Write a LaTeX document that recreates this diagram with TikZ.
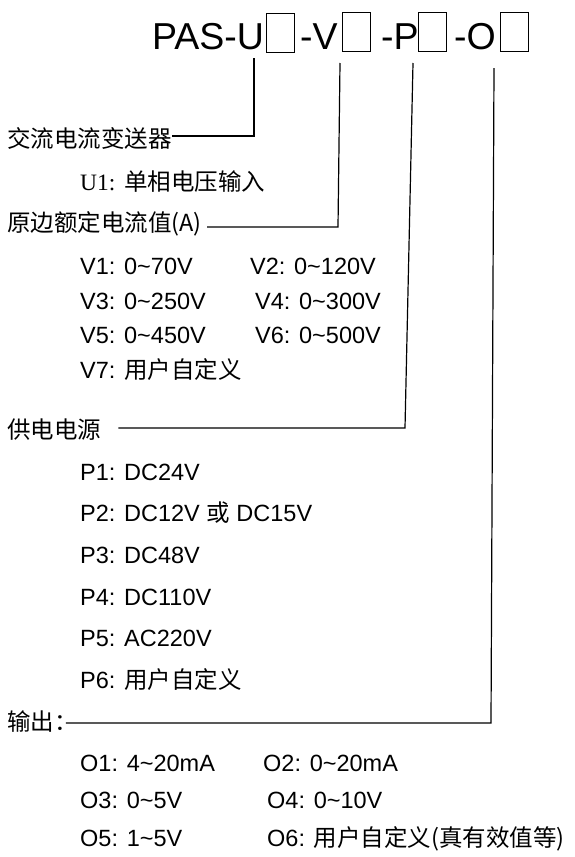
\documentclass[tikz,border=0pt]{standalone}
\usepackage{fontspec}
\setmainfont{Liberation Sans}
\newfontfamily\cjk{Noto Sans CJK SC}
\newfontfamily\tms{Liberation Serif}
\tikzset{
  title/.style={anchor=base west, inner sep=0pt, font=\fontsize{37.5}{40}\selectfont},
  slot/.style={draw, line width=0.9pt, minimum width=28pt, minimum height=39pt, inner sep=0pt},
  head/.style={anchor=base west, inner sep=0pt, font=\cjk\fontsize{23.5}{28}\selectfont},
  item/.style={anchor=base west, inner sep=0pt, font=\fontsize{23.5}{28}\selectfont},
  lead/.style={line width=1.2pt},
}
\begin{document}
\begin{tikzpicture}[x=1pt,y=-1pt]
\useasboundingbox (0,0) rectangle (574,857);
% model code
\node[title] (pasu) at (152,49) {PAS-U};
\node[slot] (box-u) at (280,33) {};
\node[title] (dash-v) at (300,49) {-V};
\node[slot] (box-v) at (356,32) {};
\node[title] (dash-p) at (381,49) {-P};
\node[slot] (box-p) at (432.5,32) {};
\node[title] (dash-o) at (454,49) {-O};
\node[slot] (box-o) at (514,32) {};
% headings
\node[head] (jlbs) at (7,147) {交流电流变送器};
\node[head] (ybed) at (7,231) {原边额定电流值(A)};
\node[head] (gddy) at (7,438) {供电电源};
\node[head] (sc) at (7,730) {输出：};
% options
\node[item] (u1) at (80,190) {{\tms U1:} {\cjk 单相电压输入}};
\node[item] (v1) at (80,274.5) {V1: 0\textasciitilde70V};
\node[item] (v2) at (250,274.5) {V2: 0\textasciitilde120V};
\node[item] (v3) at (80,309) {V3: 0\textasciitilde250V};
\node[item] (v4) at (255,309) {V4: 0\textasciitilde300V};
\node[item] (v5) at (80,343.5) {V5: 0\textasciitilde450V};
\node[item] (v6) at (255,343.5) {V6: 0\textasciitilde500V};
\node[item] (v7) at (80,378) {V7: {\cjk 用户自定义}};
\node[item] (p1) at (80,480) {P1: DC24V};
\node[item] (p2) at (80,521.5) {P2: DC12V {\cjk 或} DC15V};
\node[item] (p3) at (80,563) {P3: DC48V};
\node[item] (p4) at (80,605) {P4: DC110V};
\node[item] (p5) at (80,646.5) {P5: AC220V};
\node[item] (p6) at (80,688) {P6: {\cjk 用户自定义}};
\node[item] (o1) at (80,771.5) {O1: 4\textasciitilde20mA};
\node[item] (o2) at (263,771.5) {O2: 0\textasciitilde20mA};
\node[item] (o3) at (80,808.5) {O3: 0\textasciitilde5V};
\node[item] (o4) at (267,808.5) {O4: 0\textasciitilde10V};
\node[item] (o5) at (80,846) {O5: 1\textasciitilde5V};
\node[item] (o6) at (267,846) {O6: {\cjk 用户自定义(真有效值等)}};
% leaders
\coordinate (u-top) at (254,58);
\coordinate (u-bend) at (254,136);
\coordinate (v-top) at (340,63);
\coordinate (v-bend) at (338,227);
\coordinate (p-top) at (413,63);
\coordinate (p-bend) at (405,428);
\coordinate (o-top) at (494,68);
\coordinate (o-bend) at (491,723);
\draw[lead] (u-top) -- (u-bend) -- (jlbs.east |- u-bend);
\draw[lead] (v-top) -- (v-bend) -- ([xshift=5pt]ybed.east |- v-bend);
\draw[lead] (p-top) -- (p-bend) -- ([xshift=17pt]gddy.east |- p-bend);
\draw[lead] (o-top) -- (o-bend) -- ([xshift=-12pt]sc.east |- o-bend);
\end{tikzpicture}
\end{document}
